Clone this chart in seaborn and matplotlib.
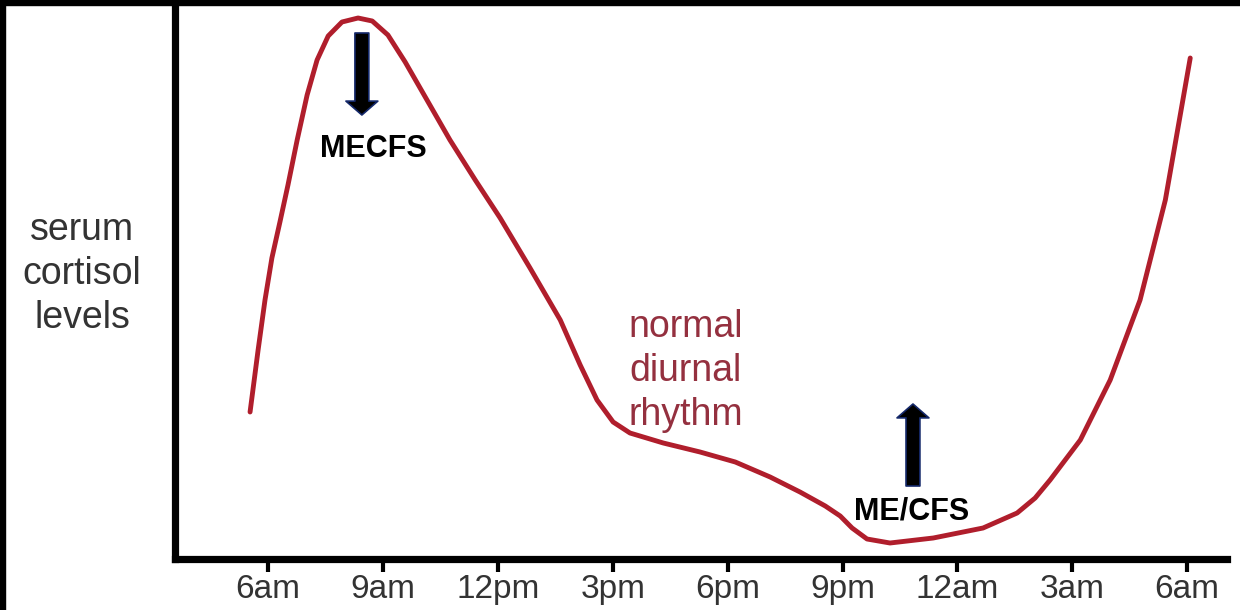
import numpy as np
import pandas as pd
import matplotlib
matplotlib.use("Agg")
import matplotlib.pyplot as plt
from matplotlib.patches import Rectangle
import seaborn as sns

# ---- data (hours after 6am, arbitrary cortisol level units) ----
hours = [-0.47, -0.26, -0.08, 0.10, 0.31, 0.52, 0.76, 1.02, 1.28, 1.57, 1.93,
         2.35, 2.72, 3.13, 3.58, 4.15, 4.75, 5.41, 6.06, 6.84, 7.63, 8.15,
         8.59, 9.01, 9.45, 10.32, 11.28, 12.20, 13.11, 13.89, 14.55, 14.94,
         15.25, 15.64, 16.24, 17.37, 18.67, 19.56, 20.03, 20.42, 21.21, 21.99,
         22.77, 23.43, 24.08]
levels = [147, 209, 259, 301, 337, 374, 419, 464, 499, 523, 537,
          541, 538, 524, 497, 459, 419, 379, 341, 291, 239, 194,
          159, 137, 126, 116, 107, 97, 82, 67, 53, 43,
          31, 20, 16, 21, 31, 46, 61, 79, 119, 179,
          259, 359, 501]
tick_hours = [0, 3, 6, 9, 12, 15, 18, 21, 24]
tick_labels = ["6am", "9am", "12pm", "3pm", "6pm", "9pm", "12am", "3am", "6am"]
ylabel_text = "serum\ncortisol\nlevels"
curve_text = "normal\ndiurnal\nrhythm"
arrow_labels = ["MECFS", "ME/CFS"]
arrow_tails = [(2.45, 526), (16.84, 73)]
arrow_tips = [(2.45, 444), (16.84, 155)]
arrow_label_pos = [(2.75, 410), (16.8, 47)]
curve_text_pos = (10.9, 188)

sns.set_theme(style="white")
plt.rcParams["font.family"] = ["Liberation Sans", "DejaVu Sans"]

fig = plt.figure(figsize=(12.4, 6.1), dpi=100)
fig.patch.set_facecolor("white")
ax = fig.add_axes([175 / 1240, 51 / 610, (1227 - 175) / 1240, 559 / 610])

df = pd.DataFrame({"hour": hours, "level": levels})
sns.lineplot(data=df, x="hour", y="level", sort=False, estimator=None,
             color="#b01e2c", linewidth=3.5, ax=ax)
ax.lines[0].set_solid_capstyle("round")
ax.lines[0].set_solid_joinstyle("round")

ax.set_xlim(-2.43, 25.04)
ax.set_ylim(0, 559)
ax.set_xticks(tick_hours)
ax.set_xticklabels(tick_labels, fontsize=24, color="#333333")
ax.set_yticks([])
ax.set_xlabel("")
ax.tick_params(axis="x", direction="out", length=9, width=3, color="black", pad=2,
               bottom=True)
for s in ["top", "right"]:
    ax.spines[s].set_visible(False)
for s in ["left", "bottom"]:
    ax.spines[s].set_visible(True)
    ax.spines[s].set_color("black")
    ax.spines[s].set_linewidth(5.2)

ax.set_ylabel(ylabel_text, rotation=0, fontsize=27, color="#333333",
              ha="center", va="center", linespacing=1.3)
ax.yaxis.set_label_coords(-0.0884, 0.51)

ax.text(curve_text_pos[0], curve_text_pos[1], curve_text, fontsize=27,
        color="#94303f", ha="center", va="center", linespacing=1.3)

for lab, tail, tip, pos in zip(arrow_labels, arrow_tails, arrow_tips, arrow_label_pos):
    ax.annotate("", xy=tip, xytext=tail,
                arrowprops=dict(arrowstyle="simple,head_length=1.0,head_width=2.3,tail_width=1.0",
                                mutation_scale=10, facecolor="black",
                                edgecolor="#14286a", linewidth=1.2,
                                shrinkA=0, shrinkB=0))
    ax.text(pos[0], pos[1], lab, fontsize=22, fontweight="bold", color="black",
            ha="center", va="center")

# black border strips at top and left of the image
fig.add_artist(Rectangle((0, 1 - 5 / 610), 1, 5 / 610, transform=fig.transFigure,
                         color="black", zorder=10))
fig.add_artist(Rectangle((0, 0), 5 / 1240, 1, transform=fig.transFigure,
                         color="black", zorder=10))

fig.savefig("out.png", dpi=100, facecolor="white")
